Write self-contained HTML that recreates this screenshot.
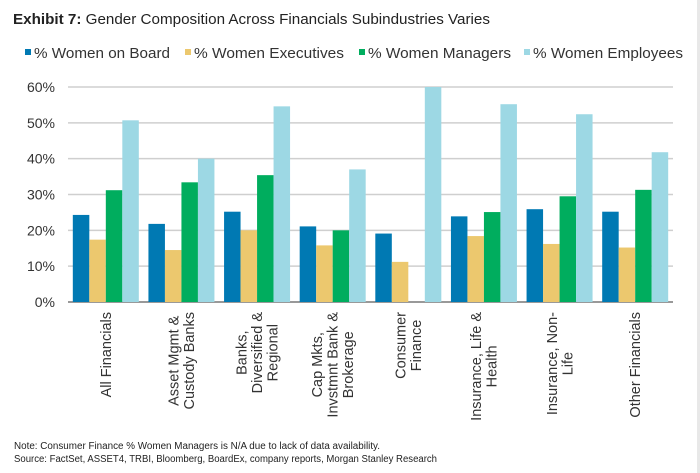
<!DOCTYPE html>
<html><head><meta charset="utf-8"><style>
body{margin:0;background:#fff;}
svg{display:block;font-family:"Liberation Sans",sans-serif;}
</style></head><body>
<svg id="chart" width="700" height="473" viewBox="0 0 700 473">
<rect x="697" y="0" width="3" height="473" fill="#e8e8e8"/>
<text x="13" y="24" font-size="15" fill="#222" textLength="477" lengthAdjust="spacingAndGlyphs"><tspan font-weight="bold">Exhibit 7:</tspan> Gender Composition Across Financials Subindustries Varies</text>
<g id="legend"></g>
<g id="grid"></g>
<g id="bars"></g>
<g id="xlabels"></g>
<text x="14" y="449" font-size="10" fill="#222" textLength="366" lengthAdjust="spacingAndGlyphs">Note: Consumer Finance % Women Managers is N/A due to lack of data availability.</text>
<text x="14" y="462" font-size="10" fill="#222" textLength="423" lengthAdjust="spacingAndGlyphs">Source: FactSet, ASSET4, TRBI, Bloomberg, BoardEx, company reports, Morgan Stanley Research</text>
</svg>
<script>
const categories = [["All Financials"],["Asset Mgmt &","Custody Banks"],["Banks,","Diversified &","Regional"],["Cap Mkts,","Invstmnt Bank &","Brokerage"],["Consumer","Finance"],["Insurance, Life &","Health"],["Insurance, Non-","Life"],["Other Financials"]];
const seriesNames = ["% Women on Board","% Women Executives","% Women Managers","% Women Employees"];
const womenOnBoard = [24.3,21.8,25.2,21.1,19.1,23.9,25.9,25.2];
const womenExecutives = [17.4,14.5,20.0,15.8,11.2,18.4,16.2,15.2];
const womenManagers = [31.2,33.4,35.4,20.0,null,25.1,29.5,31.3];
const womenEmployees = [50.7,40.0,54.6,37.0,60.0,55.2,52.4,41.8];
const yTicks = [0,10,20,30,40,50,60];
const yTickLabels = ["0%","10%","20%","30%","40%","50%","60%"];

const colors = ["#0079b3","#ecc86e","#00ad5e","#9dd8e4"];
const series = [womenOnBoard,womenExecutives,womenManagers,womenEmployees];
const NS="http://www.w3.org/2000/svg";
const x0=68,x1=673,y0=302,y1=87,yMax=60;
const yScale=v=>y0-(v/yMax)*(y0-y1);
const groupW=(x1-x0)/categories.length;
const barW=16.5;
const xScale=(i,s)=>x0+i*groupW+(groupW-barW*4)/2+s*barW;
function mk(tag,attrs,parent){const e=document.createElementNS(NS,tag);for(const k in attrs)e.setAttribute(k,attrs[k]);parent.appendChild(e);return e;}
const grid=document.getElementById('grid');
yTicks.forEach((t,i)=>{
  const l=mk('line',{x1:x0,x2:x1,y1:yScale(t),y2:yScale(t),stroke:t===0?'#999':'#cfcfcf','stroke-width':t===0?2:1.5},grid);
  
  
  const tx=mk('text',{x:55,y:yScale(t)+5,'font-size':14,fill:'#333','text-anchor':'end'},grid);
  tx.textContent=yTickLabels[i];
  
  
});
const bars=document.getElementById('bars');
series.forEach((arr,s)=>{
  arr.forEach((v,i)=>{
    if(v==null)return;
    const r=mk('rect',{x:xScale(i,s),y:yScale(v),width:barW,height:y0-yScale(v),fill:colors[s]},bars);
    
    
  });
});
const xl=document.getElementById('xlabels');
categories.forEach((lines,i)=>{
  const cx=x0+(i+0.5)*groupW;
  const n=lines.length,lh=15.5;
  const ts=lines.map((ln,j)=>{
    const off=(j-(n-1)/2)*lh+5;
    const t=mk('text',{'font-size':14.5,fill:'#333','text-anchor':'middle',transform:`translate(${cx+off},312) rotate(-90)`},xl);
    t.textContent=ln;
    
    
    return t;
  });
  const maxW=Math.max(...ts.map(t=>t.getComputedTextLength()));
  ts.forEach(t=>t.setAttribute('x',-maxW/2));
});
const lg=document.getElementById('legend');
const lx=[25,185,359,524];
const lw=[136,150,143,150];
seriesNames.forEach((nm,s)=>{
  const r=mk('rect',{x:lx[s],y:49,width:6,height:6,fill:colors[s]},lg);
  
  
  const t=mk('text',{x:lx[s]+9,y:58,'font-size':14.5,fill:'#333',textLength:lw[s],lengthAdjust:'spacingAndGlyphs'},lg);
  t.textContent=nm;
  
  
});
</script>
</body></html>
